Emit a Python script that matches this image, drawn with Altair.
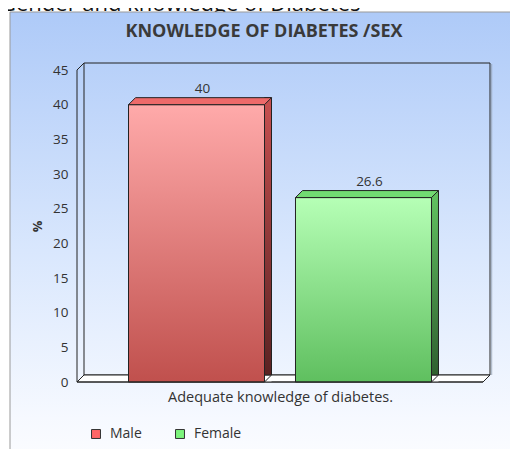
import altair as alt
import pandas as pd

# ---------------- data ----------------
page_title = "Gender and knowledge of Diabetes"
chart_title = "KNOWLEDGE OF DIABETES /SEX"
category = "Adequate knowledge of diabetes."
series = ["Male", "Female"]
values = [40, 26.6]
y_ticks = [0, 5, 10, 15, 20, 25, 30, 35, 40, 45]

df = pd.DataFrame({"series": series, "value": values})
one = pd.DataFrame({"k": [0]})

# ---------------- styles ----------------
W, H, D = 406, 312, 7          # plot size, 3-D depth
BAND = 136
FONT = "Open Sans"
TXT = "#333333"
EDGE = "#222222"

styles = {
    "Male": dict(front=("#ffaaaa", "#c0504d"), side=("#c85050", "#5a2222"),
                 top="#ee6a6a", legend="#ff6666"),
    "Female": dict(front=("#b6ffb6", "#5fbf5f"), side=("#62c462", "#2f5f2f"),
                   top="#72da72", legend="#7cf47c"),
}


def vgrad(c0, c1):
    return alt.LinearGradient(gradient="linear", x1=0, x2=0, y1=0, y2=1, stops=[
        alt.GradientStop(color=c0, offset=0), alt.GradientStop(color=c1, offset=1)])


xs = alt.Scale(domain=series, paddingInner=0.1856, paddingOuter=0.3084)
ys = alt.Scale(domain=[0, 45], nice=False, zero=True)

x_axis = alt.Axis(
    title=category, labels=False, ticks=False, domain=False, grid=False, zindex=1,
    titleFont=FONT, titleFontSize=14.5, titleFontWeight="normal", titleColor=TXT,
    titlePadding=8)
y_axis = alt.Axis(
    title="%", values=y_ticks, ticks=False, domain=False, grid=False, zindex=1,
    labelFont=FONT, labelFontSize=13.5, labelColor=TXT, labelPadding=9,
    titleFont=FONT, titleFontSize=13, titleFontWeight="bold", titleColor=TXT,
    titleAngle=270, titleX=-40, titleY=H / 2, titleAlign="center",
    titleBaseline="middle")

X = alt.X("series:N", scale=xs, axis=x_axis)
Y = alt.Y("value:Q", scale=ys, axis=y_axis)
Y0 = alt.Y("zero:Q", scale=ys, axis=y_axis)

layers = []

# clipped page heading
layers.append(alt.Chart(one).mark_text(
    text=page_title, font=FONT, fontSize=22, color="#111111",
    align="left", baseline="alphabetic").encode(x=alt.value(-77), y=alt.value(-59)))

# panel background
bg = alt.LinearGradient(gradient="linear", x1=0, x2=0, y1=0, y2=1, stops=[
    alt.GradientStop(color="#aecaf8", offset=0),
    alt.GradientStop(color="#d9e7fd", offset=0.5),
    alt.GradientStop(color="#f6f9ff", offset=0.85),
    alt.GradientStop(color="#ffffff", offset=1)])
layers.append(alt.Chart(one).mark_rect(fill=bg, stroke="#999999", strokeWidth=1).encode(
    x=alt.value(-67), x2=alt.value(480), y=alt.value(-58), y2=alt.value(420)))

# chart title
layers.append(alt.Chart(one).mark_text(
    text=chart_title, font=FONT, fontSize=18, fontWeight="bold", color="#3a3a3a",
    align="center", baseline="middle").encode(x=alt.value(187), y=alt.value(-38)))

# back wall
layers.append(alt.Chart(one).mark_rect(fillOpacity=0, stroke=EDGE, strokeWidth=1).encode(
    x=alt.value(D), x2=alt.value(W + D), y=alt.value(-D), y2=alt.value(H - D)))
layers.append(alt.Chart(one).mark_rule(stroke="#8a98aa", strokeWidth=1.5, opacity=0.6).encode(
    x=alt.value(W + D + 1.5), y=alt.value(-D + 1), y2=alt.value(H - D)))

# floor
layers.append(alt.Chart(one).mark_point(
    shape=f"M0,0 L{W},0 L{W + D},{-D} L{D},{-D} Z", size=4, filled=True, opacity=1,
    fill="white", stroke=EDGE, strokeWidth=1).encode(x=alt.value(0), y=alt.value(H)))

# left wall edges
layers.append(alt.Chart(one).mark_rule(stroke=EDGE, strokeWidth=1).encode(
    x=alt.value(0), y=alt.value(0), y2=alt.value(H)))
layers.append(alt.Chart(one).mark_rule(stroke=EDGE, strokeWidth=1).encode(
    x=alt.value(0), x2=alt.value(D), y=alt.value(0), y2=alt.value(-D)))

hb = BAND / 2
for s in series:
    st = styles[s]
    base = alt.Chart(df).transform_filter(alt.datum.series == s)
    # side face
    layers.append(base.mark_bar(
        width=D, xOffset=hb + D / 2, yOffset=-D, y2Offset=0,
        fill=vgrad(*st["side"]), stroke=EDGE, strokeWidth=1).encode(x=X, y=Y))
    # front face
    layers.append(base.mark_bar(
        fill=vgrad(*st["front"]), stroke=EDGE, strokeWidth=1).encode(x=X, y=Y))
    # top face
    layers.append(base.mark_point(
        shape=f"M{-hb},0 L{hb},0 L{hb + D},{-D} L{-hb + D},{-D} Z", size=4,
        filled=True, opacity=1, fill=st["top"], stroke=EDGE, strokeWidth=1).encode(x=X, y=Y))
    # floor corner next to the side face
    zbase = base.transform_calculate(zero="0")
    layers.append(zbase.mark_point(
        shape=f"M{hb},0 L{hb + D},0 L{hb + D},{-D} Z", size=4, filled=True, opacity=1,
        fill="white", strokeOpacity=0).encode(x=X, y=Y0))
    layers.append(zbase.mark_point(
        shape=f"M{hb},0 L{hb + D},{-D}", size=4, filled=False, opacity=1,
        stroke=EDGE, strokeWidth=1).encode(x=X, y=Y0))

# front floor edge
layers.append(alt.Chart(one).mark_rule(stroke=EDGE, strokeWidth=1).encode(
    x=alt.value(0), x2=alt.value(W), y=alt.value(H)))

# value labels
layers.append(alt.Chart(df).mark_text(
    font=FONT, fontSize=13.5, color=TXT, baseline="alphabetic", dx=6, dy=-12).encode(
    x=X, y=Y, text=alt.Text("value:Q", format="~g")))

# legend
layers.append(alt.Chart(df).mark_square(opacity=0).encode(
    x=X, y=Y,
    color=alt.Color("series:N", scale=alt.Scale(
        domain=series, range=[styles[s]["legend"] for s in series]),
        legend=alt.Legend(
            orient="none", legendX=12, legendY=357, direction="horizontal", title=None,
            symbolType="square", symbolSize=80, symbolStrokeColor="#333333",
            symbolStrokeWidth=1, symbolOpacity=1, labelFont=FONT, labelFontSize=14,
            labelColor=TXT, labelOffset=7, columnPadding=31, padding=0))))

chart = alt.layer(*layers).properties(
    width=W, height=H,
    autosize=alt.AutoSizeParams(type="none"),
    padding={"left": 69, "top": 62, "right": 27, "bottom": 67},
).configure_view(stroke=None)

chart.save("out.html", embed_options={"renderer": "svg", "actions": False})
